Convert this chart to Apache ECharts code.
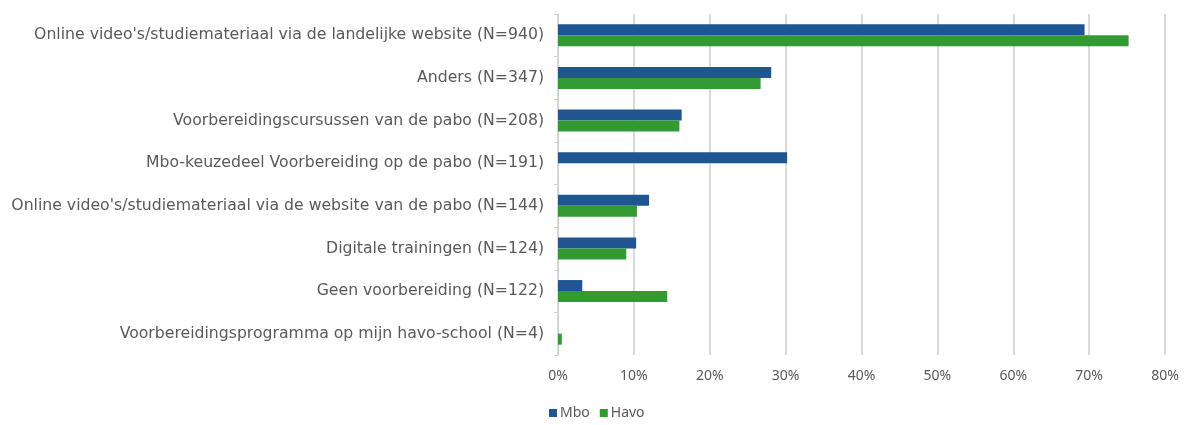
<!DOCTYPE html>
<html>
<head>
<meta charset="utf-8">
<script src="https://cdn.jsdelivr.net/npm/echarts@6/dist/echarts.min.js"></script>
<style>
  html, body { margin: 0; padding: 0; background: #fff; }
  #chart { width: 1187px; height: 425px; }
</style>
</head>
<body>
<div id="chart"></div>
<script>
const categories = [
  "Online video's/studiemateriaal via de landelijke website (N=940)",
  'Anders (N=347)',
  'Voorbereidingscursussen van de pabo (N=208)',
  'Mbo-keuzedeel Voorbereiding op de pabo (N=191)',
  "Online video's/studiemateriaal via de website van de pabo (N=144)",
  'Digitale trainingen (N=124)',
  'Geen voorbereiding (N=122)',
  'Voorbereidingsprogramma op mijn havo-school (N=4)'
];
const mboValues = [69.4, 28.1, 16.3, 30.2, 12.0, 10.3, 3.2, 0];
const havoValues = [75.2, 26.7, 16.0, 0, 10.4, 9.0, 14.4, 0.5];
const xTicks = { min: 0, max: 80, interval: 10 };

const COLORS = {
  MBO: '#1f5591',
  HAVO: '#339933',
  TEXT: '#595959',
  GRID: '#d9d9d9'
};
const FONT = 'Noto Sans';
const LABEL_FONT = 'DejaVu Sans';

const chart = echarts.init(document.getElementById('chart'), null, { renderer: 'canvas' });

chart.setOption({
  animation: false,
  textStyle: { fontFamily: FONT },
  grid: { left: 558, right: 22, top: 14, bottom: 70, containLabel: false },
  legend: {
    data: ['Mbo', 'Havo'],
    left: 544,
    top: 401,
    icon: 'rect',
    itemWidth: 8,
    itemHeight: 8,
    itemGap: 10,
    textStyle: { color: COLORS.TEXT, fontSize: 14, fontFamily: FONT, padding: [0, 0, 0, -2] }
  },
  xAxis: {
    type: 'value',
    min: xTicks.min,
    max: xTicks.max,
    interval: xTicks.interval,
    axisLine: { show: false },
    axisTick: { show: false },
    axisLabel: { color: COLORS.TEXT, fontSize: 14, margin: 14, formatter: '{value}%' },
    splitLine: { show: true, lineStyle: { color: COLORS.GRID, width: 2 } }
  },
  yAxis: {
    type: 'category',
    data: categories,
    inverse: true,
    axisLine: { show: true, lineStyle: { color: '#d0d0d0', width: 1 } },
    axisTick: { show: true, length: 4, lineStyle: { color: '#d0d0d0' } },
    axisLabel: { color: COLORS.TEXT, fontSize: 15.7, fontFamily: LABEL_FONT, margin: 14 },
    splitLine: { show: false }
  },
  series: [
    {
      name: 'Mbo',
      type: 'bar',
      data: mboValues,
      barWidth: 11,
      barGap: '0%',
      itemStyle: { color: COLORS.MBO }
    },
    {
      name: 'Havo',
      type: 'bar',
      data: havoValues,
      barWidth: 11,
      barGap: '0%',
      itemStyle: { color: COLORS.HAVO }
    }
  ]
});
</script>
</body>
</html>
